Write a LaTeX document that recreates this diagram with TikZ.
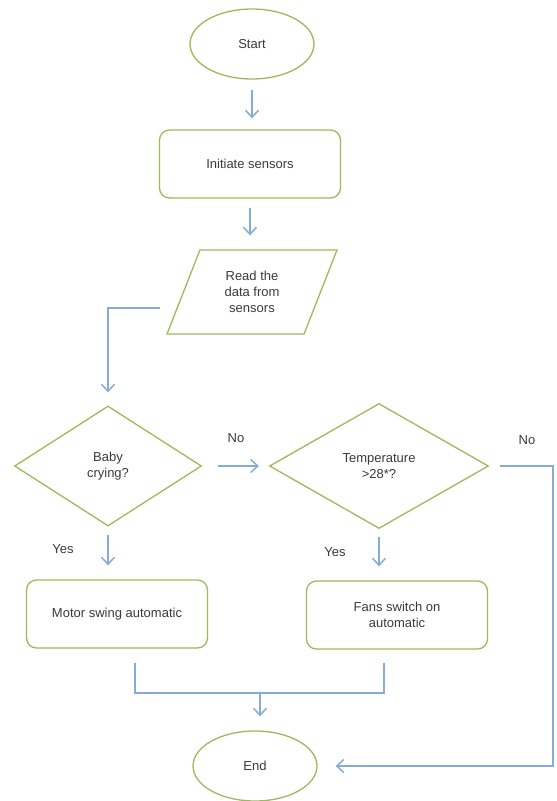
\documentclass[tikz,border=0pt]{standalone}
\usepackage{fontspec}
\setmainfont{Liberation Sans}
\usetikzlibrary{shapes.geometric, arrows.meta, positioning}
\definecolor{leafgreen}{HTML}{9BBB59}
\definecolor{flowblue}{HTML}{86ABD8}
\definecolor{inkgrey}{HTML}{3A3A3A}

\begin{document}
\begin{tikzpicture}[x=1pt, y=-1pt,
        every node/.style={font=\fontsize{13}{16}\selectfont, text=inkgrey},
        term/.style={ellipse, draw=leafgreen, line width=1.3pt, minimum width=124pt, minimum height=70pt},
        procbox/.style={draw=leafgreen, rounded corners=10pt, line width=1.3pt, minimum width=181pt, minimum height=68pt, align=center},
        iobox/.style={trapezium, trapezium left angle=68, trapezium right angle=112, trapezium stretches=true, draw=leafgreen, line width=1.3pt, minimum width=171pt, minimum height=84pt, align=center},
        decide/.style={diamond, draw=leafgreen, line width=1.3pt, align=center, inner sep=0pt},
        flow/.style={draw=flowblue, line width=1.5pt},
        arr/.style={flow, -{Straight Barb[length=7pt, width=13pt]}}
    ]
        \useasboundingbox (0,0) rectangle (557,801);

        % MAIN LINE
        \node[term] (start) at (252, 44) {Start};
        \node[procbox] (init) at (250, 164) {Initiate sensors};
        \node[iobox] (read) at (252, 292) {Read the\\data from\\sensors};

        % DECISIONS
        \node[decide, minimum width=187pt, minimum height=120pt] (baby) at (108, 466) {Baby\\crying?};
        \node[decide, minimum width=219pt, minimum height=125pt] (temp) at (379, 466) {Temperature\\>28*?};

        % ACTIONS
        \node[procbox] (motor) at (117, 614) {Motor swing automatic};
        \node[procbox] (fans) at (397, 615) {Fans switch on\\automatic};
        \node[term] (end) at (255, 766) {End};

        % LABELS
        \node (nobaby) at (236, 438) {No};
        \node (notemp) at (527, 440) {No};
        \node (yesbaby) at (63, 549) {Yes};
        \node (yestemp) at (335, 552) {Yes};

        \coordinate (readout) at (160, 308);
        \coordinate (join) at (260, 693);

        % CONNECTORS
        \draw[arr, shorten <=10pt, shorten >=11pt] (start.south) -- (start.south |- init.north);
        \draw[arr, shorten <=9pt, shorten >=14pt] (init.south) -- (init.south |- read.north);
        \draw[arr, shorten >=13pt] (readout) -| (baby.north);
        \draw[arr, shorten <=16pt, shorten >=10pt] (baby.east) -- (temp.west);
        \draw[arr, shorten <=11pt, shorten >=18pt] (temp.east) -- ++(64,0) |- (end.east);
        \draw[arr, shorten <=8pt, shorten >=14pt] (baby.south) -- (baby.south |- motor.north);
        \draw[arr, shorten <=8pt, shorten >=14pt] (temp.south) -- (temp.south |- fans.north);
        \draw[flow] ([xshift=18pt, yshift=-14pt]motor.south) |- (join);
        \draw[flow] ([xshift=-13pt, yshift=-13pt]fans.south) |- (join);
        \draw[arr, shorten >=14pt] (join) -- (join |- end.north);
    \end{tikzpicture}
\end{document}
